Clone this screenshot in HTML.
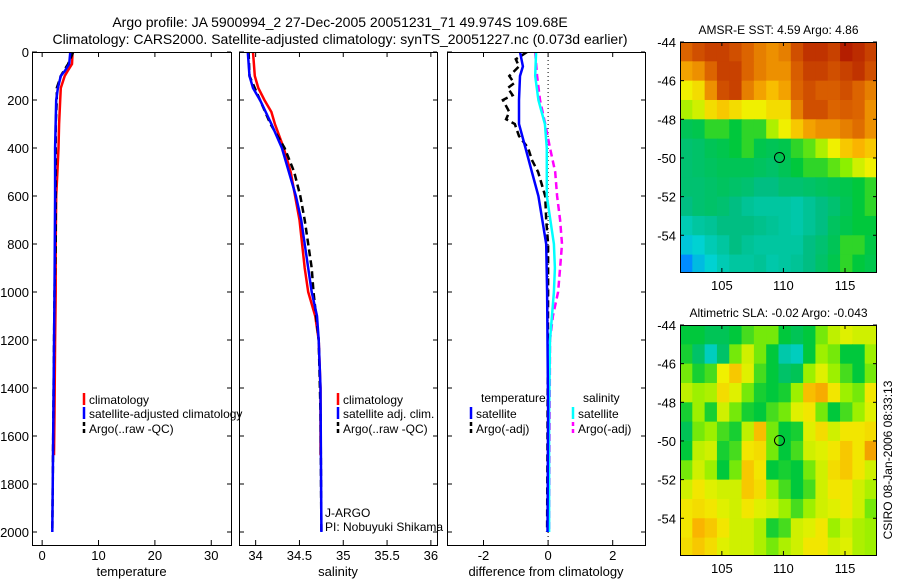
<!DOCTYPE html>
<html><head><meta charset="utf-8"><style>
html,body{margin:0;padding:0;background:#fff;width:900px;height:580px;overflow:hidden}
svg{display:block;font-family:"Liberation Sans",Arial,sans-serif}
</style></head><body>
<svg id="fig" width="900" height="580" viewBox="0 0 900 580">
<text x="340" y="27" font-size="14" text-anchor="middle">Argo profile: JA 5900994_2 27-Dec-2005 20051231_71 49.974S 109.68E</text>
<text x="340" y="44" font-size="14" text-anchor="middle">Climatology: CARS2000. Satellite-adjusted climatology: synTS_20051227.nc (0.073d earlier)</text>
</svg>
<script>
// ---- profile data ----
const tClimDepth=[0,50,80,100,150,200,300,400,500,600,800,1000,1200,1500,1680];
const tClimVal=[5.4,5.3,4.5,4.0,3.3,3.2,3.0,2.9,2.7,2.5,2.4,2.4,2.3,2.2,2.1];
const tSatDepth=[0,50,80,100,150,200,400,600,1000,1500,2000];
const tSatVal=[5.0,4.8,4.0,3.3,2.8,2.5,2.3,2.3,2.2,2.0,1.8];
const tArgoDepth=[0,50,80,100,150,200,300,400,600,800,1000,2000];
const tArgoVal=[5.5,4.6,3.8,3.3,2.6,2.6,2.4,2.4,2.4,2.4,2.2,1.8];
const sClimDepth=[0,100,150,200,250,300,400,500,600,700,800,900,1000,1100,1200,1400,1680];
const sClimVal=[33.97,33.99,34.03,34.1,34.18,34.22,34.32,34.4,34.45,34.5,34.53,34.56,34.6,34.68,34.72,34.74,34.74];
const sSatDepth=[0,100,150,200,300,400,500,600,700,800,900,1000,1100,1200,1400,2000];
const sSatVal=[33.91,33.93,33.97,34.05,34.18,34.3,34.38,34.46,34.52,34.56,34.6,34.64,34.7,34.72,34.74,34.75];
const sArgoDepth=[0,100,200,300,400,500,600,700,800,900,1000,1200,1500,2000];
const sArgoVal=[33.92,33.93,34.05,34.17,34.33,34.44,34.51,34.56,34.6,34.64,34.66,34.72,34.74,34.75];
const dTSatDepth=[0,60,100,200,300,400,500,600,700,800,1000,1500,2000];
const dTSatVal=[-0.87,-0.78,-0.87,-0.9,-0.9,-0.7,-0.5,-0.3,-0.18,-0.06,-0.03,0,-0.02];
const dSSatDepth=[0,100,200,300,400,600,800,900,1000,1200,1500,2000];
const dSSatVal=[-0.37,-0.4,-0.3,-0.1,-0.04,-0.04,0.18,0.21,0.18,0.06,0.03,0.03];
const dTArgoDepth=[0,30,60,100,130,150,180,200,250,280,300,350,400,450,500,600,700,800,1000,2000];
const dTArgoVal=[-0.65,-1.0,-0.9,-1.2,-1.05,-1.25,-1.1,-1.4,-1.2,-1.3,-1.03,-0.9,-0.62,-0.5,-0.31,-0.09,-0.06,0,0,-0.03];
const dSArgoDepth=[0,100,200,300,400,500,600,700,800,900,1000,1100,1200,2000];
const dSArgoVal=[-0.4,-0.34,-0.25,-0.09,0.06,0.22,0.28,0.37,0.43,0.37,0.31,0.15,0.06,0.03];
// ---- map data (values 0..1 on colormap), rows -44..-56, cols 101.6..117.6 ----
const sstGrid=[
[0.85,0.88,0.9,0.9,0.88,0.85,0.82,0.8,0.82,0.88,0.92,0.92,0.9,0.95,0.93,0.9],
[0.78,0.8,0.85,0.9,0.9,0.85,0.82,0.8,0.8,0.86,0.9,0.9,0.88,0.9,0.92,0.88],
[0.7,0.72,0.8,0.88,0.9,0.82,0.78,0.75,0.78,0.85,0.88,0.86,0.86,0.88,0.85,0.82],
[0.66,0.68,0.72,0.74,0.72,0.7,0.7,0.72,0.72,0.82,0.88,0.88,0.85,0.86,0.85,0.8],
[0.55,0.56,0.6,0.6,0.58,0.6,0.6,0.66,0.7,0.74,0.78,0.8,0.8,0.82,0.84,0.8],
[0.52,0.53,0.55,0.56,0.58,0.6,0.56,0.55,0.56,0.6,0.62,0.66,0.7,0.74,0.76,0.74],
[0.52,0.53,0.54,0.55,0.55,0.55,0.54,0.53,0.55,0.58,0.6,0.6,0.62,0.64,0.68,0.7],
[0.52,0.52,0.53,0.54,0.53,0.52,0.5,0.5,0.52,0.52,0.53,0.54,0.55,0.56,0.58,0.6],
[0.5,0.52,0.53,0.52,0.5,0.48,0.47,0.47,0.47,0.46,0.48,0.5,0.52,0.55,0.58,0.6],
[0.45,0.47,0.48,0.5,0.5,0.5,0.49,0.48,0.47,0.46,0.48,0.5,0.54,0.56,0.58,0.58],
[0.4,0.42,0.45,0.47,0.5,0.48,0.47,0.47,0.47,0.47,0.5,0.52,0.55,0.6,0.6,0.57],
[0.3,0.38,0.42,0.45,0.47,0.47,0.48,0.46,0.47,0.48,0.5,0.53,0.56,0.6,0.58,0.56]];
const slaGrid=[
[0.58,0.58,0.55,0.55,0.58,0.61,0.63,0.63,0.58,0.55,0.58,0.63,0.67,0.69,0.68,0.68],
[0.59,0.53,0.44,0.53,0.63,0.68,0.63,0.58,0.46,0.44,0.58,0.65,0.63,0.58,0.58,0.65],
[0.63,0.59,0.61,0.7,0.74,0.69,0.61,0.58,0.53,0.55,0.65,0.69,0.65,0.61,0.58,0.63],
[0.67,0.65,0.66,0.72,0.69,0.63,0.59,0.58,0.59,0.65,0.75,0.77,0.71,0.65,0.63,0.71],
[0.59,0.65,0.59,0.68,0.63,0.59,0.58,0.61,0.63,0.69,0.71,0.63,0.58,0.61,0.65,0.69],
[0.55,0.63,0.65,0.61,0.59,0.67,0.75,0.63,0.58,0.59,0.69,0.72,0.68,0.71,0.71,0.72],
[0.58,0.67,0.68,0.59,0.61,0.71,0.72,0.63,0.58,0.61,0.68,0.69,0.71,0.74,0.71,0.78],
[0.63,0.68,0.65,0.58,0.63,0.74,0.71,0.58,0.59,0.58,0.63,0.68,0.72,0.74,0.71,0.68],
[0.68,0.71,0.69,0.68,0.68,0.74,0.72,0.65,0.61,0.58,0.61,0.68,0.71,0.71,0.68,0.66],
[0.71,0.72,0.71,0.69,0.68,0.71,0.69,0.68,0.65,0.61,0.65,0.68,0.69,0.71,0.68,0.63],
[0.71,0.76,0.74,0.71,0.68,0.68,0.66,0.59,0.61,0.68,0.69,0.71,0.65,0.68,0.66,0.65],
[0.72,0.74,0.72,0.69,0.68,0.68,0.66,0.63,0.66,0.68,0.71,0.71,0.68,0.69,0.66,0.65]];
const depthTicks=[0,200,400,600,800,1000,1200,1400,1600,1800,2000];
const tTicks=[0,10,20,30];
const sTicks=[34,34.5,35,35.5,36];
const dTicks=[-2,0,2];
const lonTicks=[105,110,115];
const latTicks=[-44,-46,-48,-50,-52,-54];
const argoLon=109.68, argoLat=-49.974;

const NS='http://www.w3.org/2000/svg';
const svg=document.getElementById('fig');
function el(tag,attrs,parent){const e=document.createElementNS(NS,tag);for(const k in attrs)e.setAttribute(k,attrs[k]);(parent||svg).appendChild(e);return e;}
function txt(x,y,s,size,anchor,parent){const t=el('text',{x:x,y:y,'font-size':size,'text-anchor':anchor||'middle'},parent);t.textContent=s;return t;}
function lin(d0,d1,p0,p1){return v=>p0+(v-d0)/(d1-d0)*(p1-p0);}
const yD=lin(0,2000,52,532);

function panel(name,x0,x1,xmin,xmax,xticks,xlabel,showY){
  const g=el('g',{});
  
  
  const sx=lin(xmin,xmax,x0,x1);
  const clip=el('clipPath',{id:'c'+name},g);el('rect',{x:x0,y:52,width:x1-x0,height:493},clip);
  const plot=el('g',{'clip-path':'url(#c'+name+')'},g);
  el('rect',{x:x0+0.5,y:52.5,width:x1-x0,height:493,fill:'none',stroke:'#000'},g);
  depthTicks.forEach(d=>{const y=yD(d);
    el('line',{x1:x0,x2:x0+5,y1:y,y2:y,stroke:'#000'},g);el('line',{x1:x1-4,x2:x1,y1:y,y2:y,stroke:'#000'},g);
    if(showY){const t=txt(x0-3,y+5,String(d),13,'end',g);}});
  xticks.forEach(v=>{const x=sx(v);
    el('line',{x1:x,x2:x,y1:52,y2:57,stroke:'#000'},g);el('line',{x1:x,x2:x,y1:540,y2:545,stroke:'#000'},g);
    const t=txt(x,560,String(v),13,'middle',g);});
  const xl=txt((x0+x1)/2,576,xlabel,13,'middle',g);
  
  return {g,plot,sx};
}
function series(p,depths,vals,color,dash,name){
  const pts=depths.map((d,i)=>p.sx(vals[i]).toFixed(1)+','+yD(d).toFixed(1)).join(' ');
  const l=el('polyline',{points:pts,fill:'none',stroke:color,'stroke-width':2.5,'stroke-dasharray':dash||'none'},p.plot);
  
  
}
function legend(p,x,y,color,dash,label){
  el('line',{x1:x,x2:x,y1:y-9,y2:y+3,stroke:color,'stroke-width':2.5,'stroke-dasharray':dash||'none'},p.g);
  const t=txt(x+5,y+2,label,12,'start',svg);
  
  
}
// Panel 1
const p1=panel('temperature-panel',32,231,-1.8,33.5,tTicks,'temperature',true);
series(p1,tClimDepth,tClimVal,'#f00','','temp-climatology-line');
series(p1,tArgoDepth,tArgoVal,'#000','7,4','temp-argo-line');
series(p1,tSatDepth,tSatVal,'#00f','','temp-satellite-line');
// Panel 2
const p2=panel('salinity-panel',239,437,33.81,36.07,sTicks,'salinity',false);
series(p2,sClimDepth,sClimVal,'#f00','','sal-climatology-line');
series(p2,sArgoDepth,sArgoVal,'#000','7,4','sal-argo-line');
series(p2,sSatDepth,sSatVal,'#00f','','sal-satellite-line');
// Panel 3
const p3=panel('difference-panel',447,645,-3.13,3.0,dTicks,'difference from climatology',false);
el('line',{x1:p3.sx(0),x2:p3.sx(0),y1:52,y2:545,stroke:'#000','stroke-dasharray':'1,3'},p3.plot);
series(p3,dTArgoDepth,dTArgoVal,'#000','7,4','diff-temp-argo-line');
series(p3,dSArgoDepth,dSArgoVal,'#f0f','7,4','diff-sal-argo-line');
series(p3,dSSatDepth,dSSatVal,'#0ff','','diff-sal-satellite-line');
series(p3,dTSatDepth,dTSatVal,'#00f','','diff-temp-satellite-line');
// legends
legend(p1,84,402,'#f00','','climatology');
legend(p1,84,416,'#00f','','satellite-adjusted climatology');
legend(p1,84,431,'#000','4,3','Argo(..raw -QC)');
legend(p2,338,402,'#f00','','climatology');
legend(p2,338,416,'#00f','','satellite adj. clim.');
legend(p2,338,431,'#000','4,3','Argo(..raw -QC)');
txt(481,402,'temperature',12,'start');
txt(583,402,'salinity',12,'start');
legend(p3,471,416,'#00f','','satellite');
legend(p3,471,431,'#000','4,3','Argo(-adj)');
legend(p3,573,416,'#0ff','','satellite');
legend(p3,573,431,'#f0f','4,3','Argo(-adj)');
txt(325,517,'J-ARGO',12,'start');
txt(325,531,'PI: Nobuyuki Shikama',12,'start');
// ---- maps ----
const cmStops=[[0,[0,0,180]],[0.3,[0,140,255]],[0.42,[0,210,210]],[0.5,[0,190,130]],[0.58,[0,200,60]],[0.64,[140,240,0]],[0.7,[240,240,0]],[0.76,[250,180,0]],[0.85,[220,100,0]],[0.95,[180,30,0]],[1,[160,0,0]]];
function cmap(v){for(let i=1;i<cmStops.length;i++){if(v<=cmStops[i][0]){const a=cmStops[i-1],b=cmStops[i],f=(v-a[0])/(b[0]-a[0]);return 'rgb('+a[1].map((c,k)=>Math.round(c+(b[1][k]-c)*f)).join(',')+')';}}return 'rgb(160,0,0)';}
function map(name,y0,y1,grid,title){
  const g=el('g',{});
  
  
  const x0=680,x1=877;
  const sx=lin(101.6,117.6,x0,x1), sy=lin(-44,-55.9,y0,y1);
  const rows=grid.length, cols=grid[0].length;
  const clip=el('clipPath',{id:'c'+name},g);el('rect',{x:x0,y:y0,width:x1-x0,height:y1-y0},clip);
  const cells=el('g',{'clip-path':'url(#c'+name+')'},g);
  for(let r=0;r<rows;r++)for(let c=0;c<cols;c++){
    const xa=sx(101.6+c),xb=sx(101.6+c+1),ya=sy(-44-r),yb=sy(-44-r-1);
    const rc=el('rect',{x:xa,y:ya,width:xb-xa+0.6,height:yb-ya+0.6,fill:cmap(grid[r][c])},cells);
    
    
  }
  el('rect',{x:x0+0.5,y:y0+0.5,width:x1-x0-1,height:y1-y0,fill:'none',stroke:'#000'},g);
  lonTicks.forEach(v=>{const x=sx(v);el('line',{x1:x,x2:x,y1:y0,y2:y0+4,stroke:'#000'},g);el('line',{x1:x,x2:x,y1:y1-4,y2:y1,stroke:'#000'},g);
    const t=txt(x,y1+18,String(v),13,'middle',g);});
  latTicks.forEach(v=>{const y=sy(v);el('line',{x1:x0,x2:x0+4,y1:y,y2:y,stroke:'#000'},g);el('line',{x1:x1-4,x2:x1,y1:y,y2:y,stroke:'#000'},g);
    const t=txt(x0-4,y+5,String(v),13,'end',g);});
  const c=el('circle',{cx:sx(argoLon),cy:sy(argoLat),r:5,fill:'none',stroke:'#000'},g);
  
  const t=txt((x0+x1)/2,y0-8,title,12,'middle',g);
  
}
map('sst-map',42,272,sstGrid,'AMSR-E SST: 4.59 Argo: 4.86');
map('sla-map',325,555,slaGrid,'Altimetric SLA: -0.02 Argo: -0.043');
const cs=txt(0,0,'CSIRO 08-Jan-2006 08:33:13',12,'middle');
cs.setAttribute('transform','translate(892,460) rotate(-90)');


</script>
</body></html>
